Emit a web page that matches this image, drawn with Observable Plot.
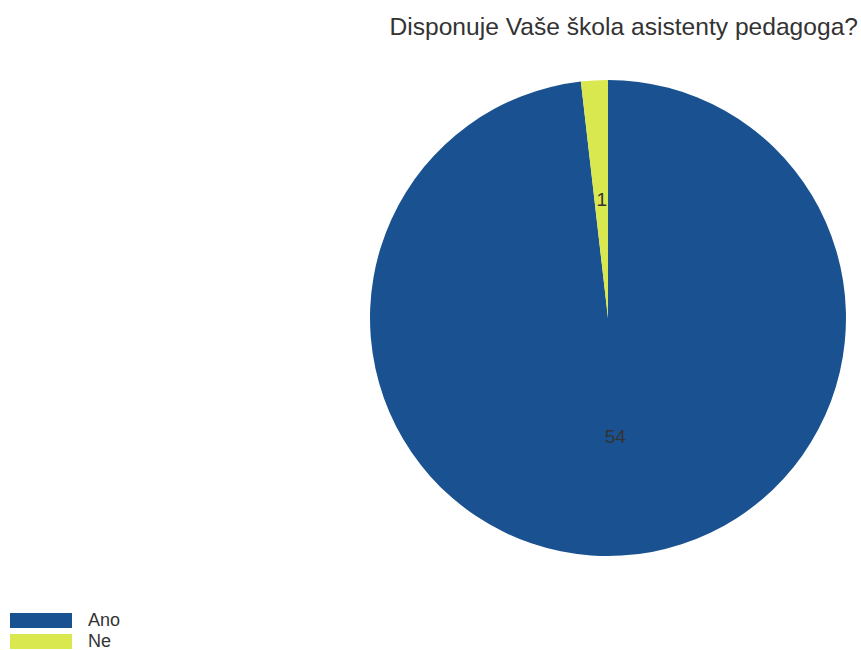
<!DOCTYPE html>
<html>
<head>
<meta charset="utf-8">
<script src="https://cdn.jsdelivr.net/npm/d3@7"></script>
<script src="https://cdn.jsdelivr.net/npm/@observablehq/plot@0.6"></script>
<style>
  html, body { margin: 0; padding: 0; background: #fff; }
  body { width: 861px; height: 650px; position: relative; overflow: hidden; font-family: "Liberation Sans", Arial, sans-serif; }
  #title { position: absolute; top: 12px; right: 3px; font-size: 24.6px; line-height: 30px; color: #333; white-space: nowrap; }
  #chart { position: absolute; left: 0; top: 50px; }
  #legend { position: absolute; left: 10px; top: 613px; font-size: 18px; color: #333; }
  .row { display: flex; align-items: center; height: 15px; margin-bottom: 6px; }
  .sw { width: 62px; height: 15px; margin-right: 16px; }
</style>
</head>
<body>
<div id="title">Disponuje Vaše škola asistenty pedagoga?</div>
<div id="chart"></div>
<div id="legend"></div>
<script>
const categories = ["Ano", "Ne"];
const counts = [54, 1];
const colors = ["#1a5291", "#d9e84e"];
const title = "Disponuje Vaše škola asistenty pedagoga?";

const data = categories.map((c, i) => ({category: c, count: counts[i]}));
const arcs = d3.pie().sort(null).value(d => d.count)(data);
const unitArc = d3.arc().innerRadius(0).outerRadius(1);
const labels = arcs.map(a => {
  const [cx, cy] = unitArc.centroid(a);
  return {label: String(a.data.count), x: cx, y: -cy};
});

const W = 861, H = 550;
const cxPx = 608, cyPx = 268, R = 238;

const pieMark = (index, scales) => {
  const x = scales.x, y = scales.y, color = scales.color;
  const cx = x(0), cy = y(0), r = x(1) - x(0);
  const arcGen = d3.arc().innerRadius(0).outerRadius(r);
  const g = d3.create("svg:g").attr("transform", `translate(${cx},${cy})`);
  g.selectAll("path").data(arcs).join("path")
    .attr("d", arcGen)
    .attr("fill", d => color(d.data.category));
  return g.node();
};

const plot = Plot.plot({
  width: W,
  height: H,
  margin: 0,
  x: {domain: [-cxPx / R, (W - cxPx) / R], axis: null},
  y: {domain: [-(H - cyPx) / R, cyPx / R], axis: null},
  color: {domain: categories, range: colors},
  style: {fontFamily: "Liberation Sans, Arial, sans-serif", background: "white"},
  marks: [
    pieMark,
    Plot.text(labels, {x: "x", y: "y", text: "label", fontSize: 19, fill: "#333"})
  ]
});
document.getElementById("chart").appendChild(plot);

const legend = document.getElementById("legend");
categories.forEach((c, i) => {
  const row = document.createElement("div");
  row.className = "row";
  const sw = document.createElement("div");
  sw.className = "sw";
  sw.style.background = colors[i];
  const t = document.createElement("span");
  t.textContent = c;
  row.appendChild(sw); row.appendChild(t);
  legend.appendChild(row);
});
</script>
</body>
</html>
